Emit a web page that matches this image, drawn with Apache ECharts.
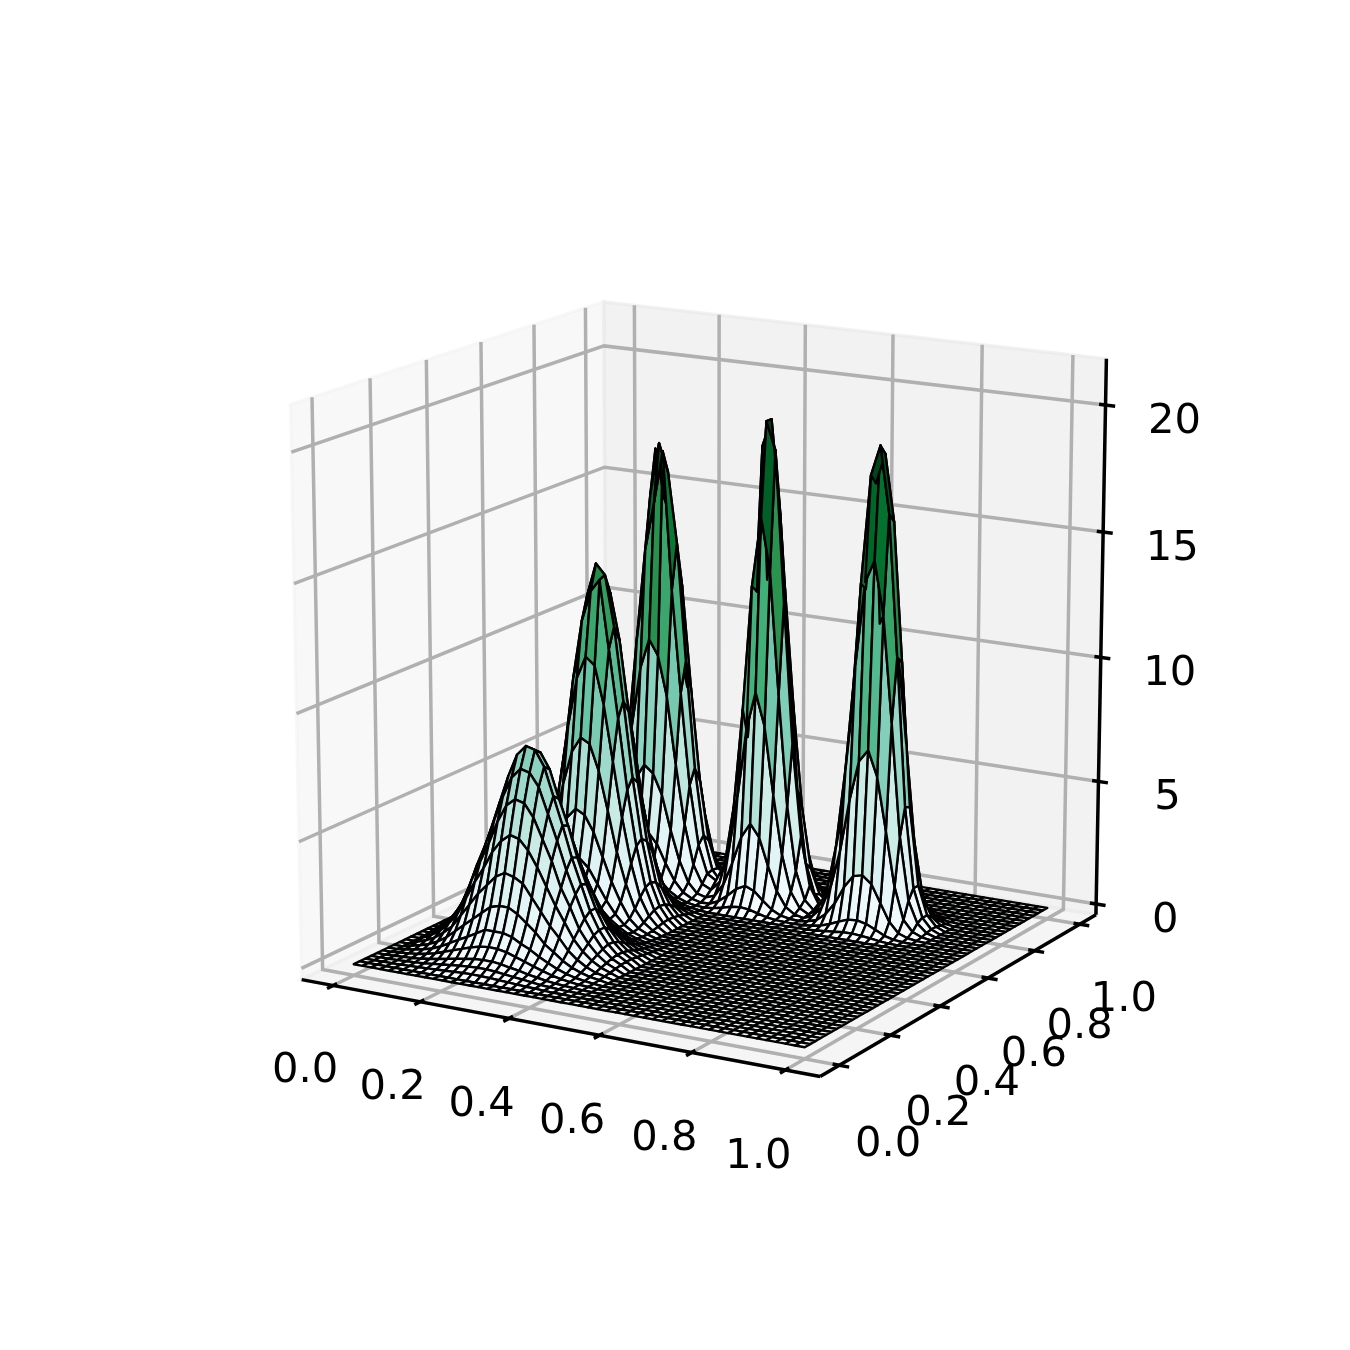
<!DOCTYPE html>
<html><head><meta charset="utf-8">
<script src="https://cdn.jsdelivr.net/npm/echarts@6/dist/echarts.min.js"></script>
<style>html,body{margin:0;padding:0;background:#fff}#c{width:1350px;height:1350px}</style>
</head><body><div id="c"></div>
<script>
// Tick labels
const xTicks = [0, 0.2, 0.4, 0.6, 0.8, 1.0];
const yTicks = [0, 0.2, 0.4, 0.6, 0.8, 1.0];
const zTicks = [0, 5, 10, 15, 20];
// Surface heights on a 50x50 grid: flat floor plus five peaks.
// Each table: rows by y index from start[1], columns by x index from start[0].
const peak1Start = [2, 2];
const peak1Rows = [
[.01,.01,.02,.03,.04,.06,.08,.1,.12,.14,.15,.14,.13,.11,.09,.07,.05,.04,.02,.01,.01,0],
[.01,.02,.04,.06,.09,.13,.17,.21,.25,.28,.3,.3,.27,.23,.19,.15,.11,.07,.05,.03,.02,.01],
[.02,.04,.06,.1,.15,.21,.28,.35,.41,.47,.49,.49,.45,.38,.32,.24,.18,.12,.08,.05,.03,.01],
[.04,.07,.11,.18,.26,.39,.51,.63,.75,.85,.89,.88,.81,.69,.57,.44,.33,.22,.14,.09,.05,.03],
[.06,.11,.18,.28,.43,.62,.82,1,1.2,1.4,1.4,1.4,1.3,1.1,.93,.71,.53,.36,.23,.14,.08,.04],
[.09,.17,.28,.45,.68,.99,1.3,1.6,1.9,2.2,2.3,2.3,2.1,1.8,1.5,1.1,.85,.57,.37,.23,.13,.07],
[.14,.26,.43,.69,1,1.5,2,2.5,2.9,3.3,3.5,3.4,3.2,2.7,2.2,1.7,1.3,.86,.56,.34,.19,.1],
[.2,.37,.6,.96,1.4,2.1,2.8,3.4,4.1,4.6,4.9,4.8,4.4,3.8,3.1,2.4,1.8,1.2,.78,.48,.27,.14],
[.25,.46,.76,1.2,1.8,2.7,3.5,4.3,5.2,5.9,6.2,6.1,5.6,4.8,4,3,2.3,1.5,.99,.61,.34,.18],
[.3,.55,.9,1.4,2.2,3.2,4.1,5.1,6.1,6.9,7.3,7.2,6.7,5.7,4.7,3.6,2.7,1.8,1.2,.72,.41,.22],
[.33,.61,1,1.6,2.4,3.5,4.6,5.7,6.8,7.7,8.1,8,7.4,6.3,5.2,4,3,2,1.3,.8,.45,.24],
[.32,.59,.98,1.6,2.3,3.4,4.5,5.6,6.6,7.5,7.9,7.8,7.2,6.1,5.1,3.9,2.9,2,1.3,.78,.44,.23],
[.28,.51,.84,1.3,2,2.9,3.8,4.8,5.7,6.4,6.8,6.7,6.2,5.3,4.3,3.3,2.5,1.7,1.1,.67,.38,.2],
[.22,.41,.67,1.1,1.6,2.3,3.1,3.8,4.5,5.1,5.4,5.3,4.9,4.2,3.5,2.7,2,1.3,.86,.53,.3,.16],
[.16,.3,.49,.78,1.2,1.7,2.3,2.8,3.3,3.8,4,3.9,3.6,3.1,2.5,2,1.5,.98,.64,.39,.22,.12],
[.11,.2,.33,.53,.79,1.2,1.5,1.9,2.2,2.5,2.7,2.6,2.4,2.1,1.7,1.3,.99,.66,.43,.26,.15,.08],
[.07,.13,.21,.34,.5,.74,.97,1.2,1.4,1.6,1.7,1.7,1.6,1.3,1.1,.84,.63,.42,.27,.17,.09,.05],
[.04,.08,.13,.21,.31,.46,.6,.74,.88,1,1.1,1,.96,.82,.68,.52,.39,.26,.17,.1,.06,.03],
[.02,.05,.07,.12,.18,.26,.34,.42,.5,.57,.6,.59,.55,.47,.38,.3,.22,.15,.1,.06,.03,.02],
[.01,.02,.04,.06,.1,.14,.18,.23,.27,.31,.32,.32,.3,.25,.21,.16,.12,.08,.05,.03,.02,.01],
[.01,.01,.02,.03,.05,.07,.1,.12,.14,.16,.17,.17,.16,.13,.11,.08,.06,.04,.03,.02,.01,.01]];
const peak2Start = [5, 17];
const peak2Rows = [
[.01,.01,.03,.05,.09,.12,.15,.17,.16,.14,.11,.07,.04,.02,.01,0],
[.02,.04,.09,.16,.25,.36,.45,.49,.48,.41,.31,.2,.12,.06,.03,.01],
[.04,.1,.2,.36,.58,.82,1,1.1,1.1,.94,.7,.46,.27,.14,.06,.02],
[.09,.2,.43,.77,1.2,1.8,2.2,2.4,2.3,2,1.5,.99,.58,.29,.13,.05],
[.16,.37,.78,1.4,2.2,3.2,4,4.4,4.2,3.6,2.7,1.8,1.1,.53,.24,.1],
[.27,.62,1.3,2.3,3.7,5.4,6.7,7.3,7.1,6.1,4.6,3,1.8,.88,.41,.16],
[.39,.91,1.9,3.4,5.4,7.8,9.7,10.6,10.3,8.8,6.6,4.4,2.6,1.3,.6,.23],
[.47,1.1,2.3,4.2,6.7,9.6,11.9,13.1,13.6,10.9,8.2,5.4,3.2,1.6,.73,.29],
[.51,1.2,2.5,4.5,7.2,10.3,12.8,14.1,13.7,11.7,8.8,5.8,3.4,1.7,.79,.31],
[.48,1.1,2.4,4.3,6.8,9.7,13.4,13.3,12.9,11.1,8.3,5.5,3.2,1.6,.75,.29],
[.4,.94,2,3.5,5.6,8,10,11,10.7,9.1,6.9,4.5,2.7,1.3,.62,.24],
[.29,.68,1.4,2.5,4.1,5.8,7.2,8,7.7,6.6,5,3.3,1.9,.96,.45,.18],
[.18,.43,.89,1.6,2.6,3.7,4.5,5,4.9,4.2,3.1,2.1,1.2,.6,.28,.11],
[.1,.23,.49,.88,1.4,2,2.5,2.7,2.7,2.3,1.7,1.1,.66,.33,.15,.06],
[.05,.11,.24,.43,.68,.98,1.2,1.3,1.3,1.1,.84,.55,.32,.16,.08,.03],
[.02,.05,.1,.18,.29,.41,.51,.56,.55,.47,.35,.23,.14,.07,.03,.01],
[.01,.02,.04,.07,.11,.15,.19,.21,.21,.18,.13,.09,.05,.03,.01,0]];
const peak3Start = [6, 31];
const peak3Rows = [
[.01,.02,.06,.12,.2,.27,.3,.29,.24,.16,.09,.04,.02,.01],
[.03,.07,.18,.35,.58,.79,.9,.84,.7,.47,.25,.12,.05,.02],
[.08,.2,.49,.98,1.6,2.2,2.5,2.4,2,1.3,.7,.32,.13,.04],
[.16,.41,1,2,3.3,4.6,5.2,4.9,4.1,2.7,1.5,.67,.26,.09],
[.31,.8,2,4,6.6,9,10.2,9.6,8,5.3,2.9,1.3,.51,.17],
[.47,1.2,3,6.1,10,13.7,15.6,17.7,12.2,8.1,4.4,2,.78,.26],
[.54,1.4,3.5,7,11.5,15.8,17.9,16.8,14,9.3,5,2.3,.9,.3],
[.47,1.2,3,6.1,10,17.55,15.6,14.6,12.2,8.1,4.4,2,.78,.26],
[.31,.8,2,4,6.6,9,10.2,9.6,8,5.3,2.9,1.3,.51,.17],
[.16,.41,1,2,3.3,4.6,5.2,4.9,4.1,2.7,1.5,.67,.26,.09],
[.06,.15,.39,.77,1.3,1.7,2,1.8,1.5,1,.55,.25,.1,.03],
[.02,.05,.12,.25,.4,.55,.63,.59,.49,.33,.18,.08,.03,.01],
[.01,.01,.04,.07,.12,.16,.18,.17,.14,.09,.05,.02,.01,0]];
const peak4Start = [18, 32];
const peak4Rows = [
[0,.01,.03,.08,.16,.26,.31,.27,.17,.08,.03,.01,0],
[.01,.03,.09,.26,.54,.88,1.07,.92,.58,.28,.1,.03,.01],
[.02,.09,.31,.85,1.8,2.9,3.5,3,1.9,.92,.34,.1,.02],
[.05,.22,.76,2.1,4.4,7.2,8.7,7.4,4.7,2.3,.85,.25,.06],
[.1,.4,1.4,3.8,7.8,12.8,15.6,13.5,8.6,4.2,1.6,.48,.12],
[.04,.2,.85,2.6,6.6,12.5,19.3,18.2,12.2,6.6,2.9,.95,.27],
[.12,.5,1.7,4.7,9.8,18.2,19.3,15.6,9.8,4.7,1.7,.5,.12],
[.1,.4,1.4,3.8,7.8,12.8,15.6,12.5,7.8,3.8,1.4,.4,.1],
[.05,.22,.76,2.1,4.4,7.2,8.7,7,4.4,2.1,.76,.22,.05],
[.02,.09,.31,.85,1.8,2.9,3.5,2.8,1.8,.85,.31,.09,.02],
[.01,.03,.09,.26,.54,.88,1.07,.85,.54,.26,.09,.03,.01],
[0,.01,.03,.08,.16,.26,.31,.25,.16,.08,.03,.01,0]];
const peak5Start = [31, 31];
const peak5Rows = [
[0,.01,.03,.07,.11,.15,.16,.13,.09,.04,.01,0,0],
[.01,.05,.12,.25,.41,.55,.58,.5,.33,.15,.05,.02,0],
[.06,.18,.48,.98,1.7,2.2,2.3,2,1.3,.6,.2,.07,.02],
[.17,.56,1.5,3,5.1,6.7,7.2,6.2,4.1,1.9,.63,.21,.06],
[.35,1.1,3,6.2,10.4,13.7,14.6,12.5,8.3,3.8,1.3,.44,.12],
[.46,1.5,3.9,8,13.5,17.8,19,16.4,10.8,4.9,1.7,.57,.16],
[.45,1.4,3.8,7.8,13.2,17.4,18.6,16,10.5,4.8,1.7,.56,.16],
[.31,.98,2.6,5.3,9,11.8,12.6,10.9,7.2,3.3,1.1,.38,.1],
[.15,.47,1.2,2.5,4.3,5.6,6,5.2,3.4,1.6,.53,.18,.05],
[.05,.16,.43,.88,1.5,1.9,2.1,1.8,1.2,.54,.18,.06,.02],
[.01,.04,.1,.21,.36,.47,.5,.43,.29,.13,.04,.02,0],
[0,.01,.02,.04,.07,.09,.1,.08,.06,.03,.01,0,0]];
const gridSize = 50;
const bugn = ['#f7fcfd','#e5f5f9','#ccece6','#99d8c9','#66c2a4','#41ae76','#238b45','#006d2c','#00441b'];

const surface = [];
for (let j = 0; j < gridSize; j++) surface.push(new Array(gridSize).fill(0));
[[peak1Start,peak1Rows],[peak2Start,peak2Rows],[peak3Start,peak3Rows],[peak4Start,peak4Rows],[peak5Start,peak5Rows]].forEach(([s,rows]) => {
  rows.forEach((r,jj) => r.forEach((v,ii) => { surface[s[1]+jj][s[0]+ii] += v; }));
});

// View: the chart's 3D camera
const elev = 15*Math.PI/180, azim = -60*Math.PI/180, dist = 10;
const xLim = [-0.05,1.05], yLim = [-0.05,1.05], zLim = [0,21.36];
const boxPad = 1/48;
const n = [Math.cos(elev)*Math.cos(azim), Math.cos(elev)*Math.sin(azim), Math.sin(elev)];
const uLen = Math.hypot(n[1],n[0]);
const u = [-n[1]/uLen, n[0]/uLen, 0];
const v = [n[1]*u[2]-n[2]*u[1], n[2]*u[0]-n[0]*u[2], n[0]*u[1]-n[1]*u[0]];
function world(x,y,z){return [(x-xLim[0])/(xLim[1]-xLim[0])-.5,(y-yLim[0])/(yLim[1]-yLim[0])-.5,(z-zLim[0])/(zLim[1]-zLim[0])-.5];}
function dot(a,b){return a[0]*b[0]+a[1]*b[1]+a[2]*b[2];}
function proj(p){const w=dist-dot(n,p);return [dot(u,p)/w,dot(v,p)/w];}
function pt3(x,y,z){return proj(world(x,y,z));}
const boxLo = -.5-boxPad, boxHi = .5+boxPad;
const xOf = x => (x-xLim[0])/(xLim[1]-xLim[0])-.5;
const yOf = y => (y-yLim[0])/(yLim[1]-yLim[0])-.5;
const zOf = z => (z-zLim[0])/(zLim[1]-zLim[0])-.5;

// Quads, far ones first
const axisOf = i => i/(gridSize-1);
const quads = [];
let avgMin = Infinity, avgMax = -Infinity;
for (let j=0;j<gridSize-1;j++) for (let i=0;i<gridSize-1;i++){
  const cs=[[i,j],[i+1,j],[i+1,j+1],[i,j+1]];
  let zs=0, d=0;
  cs.forEach(([a,b])=>{const z=surface[b][a]; zs+=z; d+=dot(n,world(axisOf(a),axisOf(b),z));});
  zs/=4; d/=4;
  avgMin=Math.min(avgMin,zs); avgMax=Math.max(avgMax,zs);
  quads.push([i,j,zs,d]);
}
quads.sort((p,q)=>p[3]-q[3]);

const LABEL_FONT = 41.67;
const AXIS_W = 3.5, GRID_W = 3.5, MESH_W = 2.4;
const gridColor = '#b0b0b0';

function renderPanes(params, api){
  const k = api.value(0);
  const L=boxLo,H=boxHi;
  const polys=[[[L,L,L],[L,H,L],[L,H,H],[L,L,H]],[[L,H,L],[H,H,L],[H,H,H],[L,H,H]],[[L,L,L],[H,L,L],[H,H,L],[L,H,L]]];
  const fills=['rgba(242,242,242,0.5)','rgba(230,230,230,0.5)','rgba(236,236,236,0.5)'];
  return {type:'polygon',shape:{points:polys[k].map(p=>api.coord(proj(p)))},style:{fill:fills[k],stroke:fills[k],lineWidth:3.3}};
}
function polyline(points,stroke,w){return {type:'polyline',shape:{points},style:{fill:'none',stroke,lineWidth:w,lineJoin:'miter'}};}
function renderGrid(params, api){
  const kind=api.value(0), t=api.value(1), L=boxLo, H=boxHi;
  let pts;
  if(kind===0){const a=xOf(t); pts=[[a,L,L],[a,H,L],[a,H,H]];}
  else if(kind===1){const b=yOf(t); pts=[[H,b,L],[L,b,L],[L,b,H]];}
  else {const c=zOf(t); pts=[[L,L,c],[L,H,c],[H,H,c]];}
  return polyline(pts.map(p=>api.coord(proj(p))),gridColor,GRID_W);
}
const tickIn=.014/1.1, tickOut=.021/1.1;
function renderAxes(params, api){
  const kind=api.value(0), t=api.value(1), L=boxLo, H=boxHi;
  const children=[];
  if(t<-1){
    const seg=[[[L,L,L],[H,L,L]],[[H,L,L],[H,H,L]],[[H,H,L],[H,H,H]]][kind];
    return polyline(seg.map(p=>api.coord(proj(p))),'#000',AXIS_W);
  }
  let a,b,off,lab;
  if(kind===0){const c=xOf(t); a=[c,L-tickOut,L]; b=[c,L+tickIn,L]; off=[-28+t,86+1.5*t]; lab=t.toFixed(1);}
  else if(kind===1){const c=yOf(t); a=[H-tickIn,c,L]; b=[H+tickOut,c,L]; off=[49-5*t,80-4*t]; lab=t.toFixed(1);}
  else {const c=zOf(t); a=[H-tickIn,H,c]; b=[H+tickOut,H,c]; off=[69,17]; lab=String(t);}
  const A=api.coord(proj(a)),B=api.coord(proj(b));
  const base=api.coord(proj(kind===0?[xOf(t),L,L]:kind===1?[H,yOf(t),L]:[H,H,zOf(t)]));
  children.push({type:'line',shape:{x1:A[0],y1:A[1],x2:B[0],y2:B[1]},style:{stroke:'#000',lineWidth:AXIS_W}});
  children.push({type:'text',style:{x:base[0]+off[0],y:base[1]+off[1],text:lab,fill:'#000',fontFamily:'DejaVu Sans',fontSize:LABEL_FONT,textAlign:'center',textVerticalAlign:'middle'}});
  return {type:'group',children};
}
function colorFor(z){
  const t=(z-avgMin)/(avgMax-avgMin);
  return echarts.color.lerp(Math.min(1,Math.max(0,t)),bugn);
}
function renderQuad(params, api){
  const i=api.value(0), j=api.value(1), zs=api.value(2);
  const pts=[[i,j],[i+1,j],[i+1,j+1],[i,j+1]].map(([a,b])=>api.coord(pt3(axisOf(a),axisOf(b),surface[b][a])));
  return {type:'polygon',shape:{points:pts},z2:params.dataIndex,style:{fill:colorFor(zs),stroke:'#000',lineWidth:MESH_W,lineJoin:'round'}};
}

const gridData=[];
xTicks.forEach(t=>gridData.push([0,t]));yTicks.forEach(t=>gridData.push([1,t]));zTicks.forEach(t=>gridData.push([2,t]));
const axisData=[[0,-9],[1,-9],[2,-9]];
xTicks.forEach(t=>axisData.push([0,t]));yTicks.forEach(t=>axisData.push([1,t]));zTicks.forEach(t=>axisData.push([2,t]));

const chart=echarts.init(document.getElementById('c'),null,{renderer:'canvas'});
const common={type:'custom',coordinateSystem:'cartesian2d',silent:true,clip:false,animation:false,progressive:0,encode:{x:[],y:[]}};
chart.setOption({
  animation:false,
  backgroundColor:'#fff',
  grid:{left:168.75,right:135,top:162,bottom:148.5},
  xAxis:{type:'value',min:-0.095,max:0.09,show:false},
  yAxis:{type:'value',min:-0.095,max:0.09,show:false},
  series:[
    Object.assign({},common,{name:'panes',z:1,data:[[0],[1],[2]],renderItem:renderPanes}),
    Object.assign({},common,{name:'grid',z:2,data:gridData,renderItem:renderGrid}),
    Object.assign({},common,{name:'axes',z:3,data:axisData,renderItem:renderAxes}),
    Object.assign({},common,{name:'surface',z:4,data:quads.map(q=>[q[0],q[1],q[2]]),renderItem:renderQuad})
  ]
});
</script></body></html>
